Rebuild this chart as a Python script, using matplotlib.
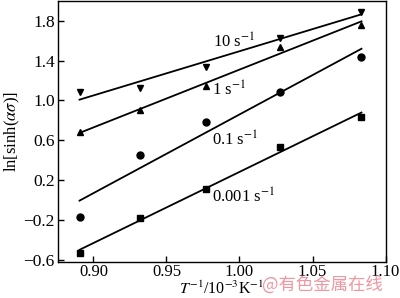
import numpy as np
import matplotlib
matplotlib.use("Agg")
import matplotlib.pyplot as plt

plt.rcParams['font.family'] = ['Liberation Serif', 'DejaVu Serif']
plt.rcParams['mathtext.fontset'] = 'stix'

x = [0.8905, 0.932, 0.977, 1.0275, 1.0835]
y_10 = [1.082, 1.128, 1.339, 1.63, 1.89]
y_1 = [0.68, 0.905, 1.14, 1.54, 1.76]
y_01 = [-0.166, 0.453, 0.78, 1.082, 1.44]
y_0001 = [-0.527, -0.182, 0.112, 0.536, 0.837]

series = [
    ("10 s$^{-1}$", y_10, 'v', (0.982, 1.58)),
    ("1 s$^{-1}$", y_1, '^', (0.981, 1.10)),
    ("0.1 s$^{-1}$", y_01, 'o', (0.981, 0.60)),
    ("0.001 s$^{-1}$", y_0001, 's', (0.981, 0.03)),
]

fig = plt.figure(figsize=(4.0, 2.98), dpi=100)
ax = fig.add_axes([0.144, 0.12, 0.820, 0.877])

xa = np.array(x)
for label, ys, m, pos in series:
    ax.plot(x, ys, linestyle='none', marker=m, color='black', markersize=5)
    k, b = np.polyfit(xa, np.array(ys), 1)
    xs = np.array([xa[0], xa[-1]])
    ax.plot(xs, k * xs + b, color='black', linewidth=1.3)
    ax.text(pos[0], pos[1], label, fontsize=12, ha='left', va='center')

ax.set_xlim(0.8755, 1.0995)
ax.set_ylim(-0.623, 1.998)
ax.set_xticks([0.90, 0.95, 1.00, 1.05, 1.10])
ax.set_xticklabels(["0.90", "0.95", "1.00", "1.05", "1.10"])
ax.set_yticks([-0.6, -0.2, 0.2, 0.6, 1.0, 1.4, 1.8])
ax.set_yticklabels(["\u22120.6", "\u22120.2", "0.2", "0.6", "1.0", "1.4", "1.8"])
ax.tick_params(direction='in', length=4, width=1, labelsize=12.5, top=False, right=False, pad=2)
ax.tick_params(axis='x', labelsize=12, pad=1.5)
for s in ax.spines.values():
    s.set_linewidth(1.0)

ax.set_ylabel(r"ln[sinh($\alpha\sigma$)]", fontsize=12, labelpad=1)
ax.set_xlabel(r"$T^{-1}$/10$^{-3}$K$^{-1}$", fontsize=11.5)
ax.xaxis.set_label_coords(0.5, -0.07)

fig.text(0.655, 0.045, "@有色金属在线", fontsize=12.5, color=(0.93, 0.45, 0.5), alpha=0.75,
         family=['Noto Sans CJK SC', 'DejaVu Sans'], ha='left', va='center')

fig.savefig("out.png", dpi=100)
